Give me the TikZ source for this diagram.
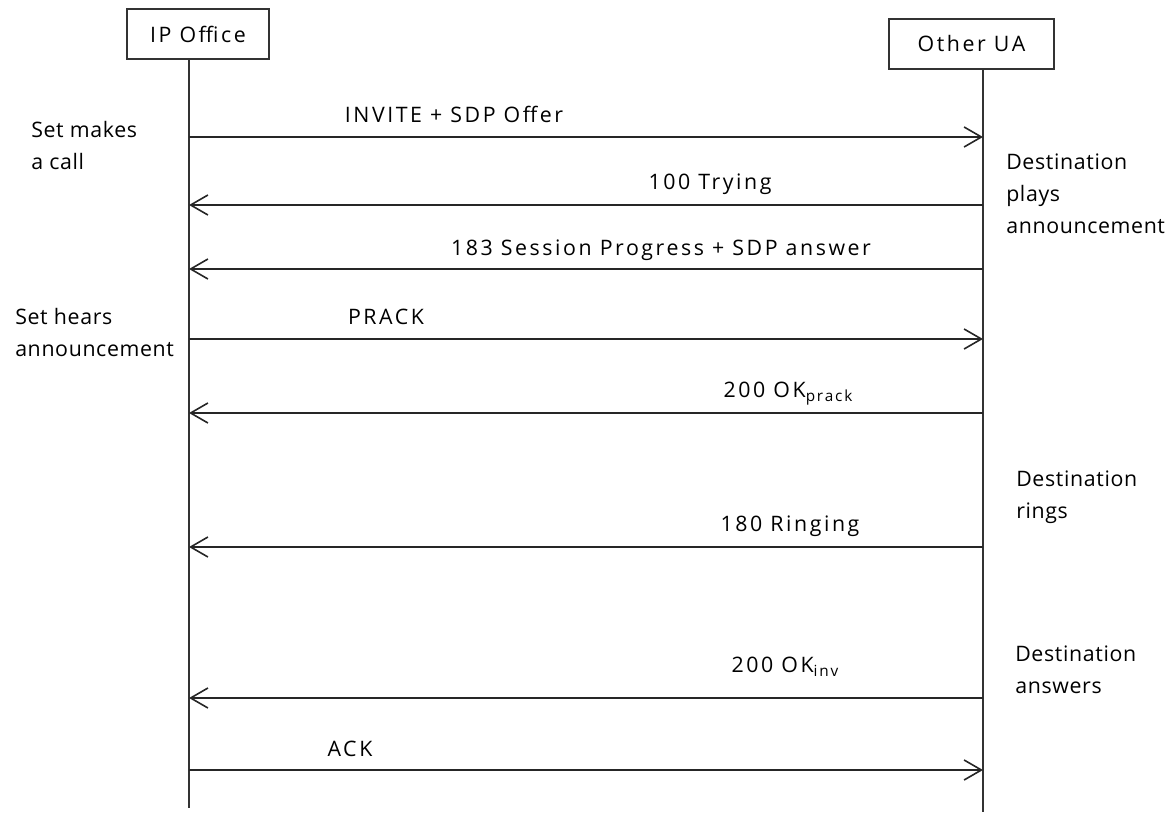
\documentclass[tikz,border=0pt]{standalone}
\usepackage{fontspec}
\setmainfont{Open Sans}
\newfontfamily\msgfont[LetterSpace=12]{Open Sans}
\newfontfamily\notefont[LetterSpace=3]{Open Sans}
\usetikzlibrary{arrows.meta}
\newcommand{\subtxt}[1]{\raisebox{-0.4ex}{\fontsize{11.5}{12}\selectfont #1}}
\begin{document}
\begin{tikzpicture}[x=0.75pt,y=-0.75pt,
  every node/.style={font=\msgfont\fontsize{16}{24}\selectfont, inner sep=0pt},
  actor/.style={draw=black!80, line width=1.2pt, minimum height=37.5pt, anchor=center, fill=white},
  lifeline/.style={draw=black!80, line width=1.3pt},
  msg/.style={draw=black!85, line width=1.2pt, -{Straight Barb[length=13pt,width=15pt,line width=1.2pt]}},
  lbl/.style={anchor=base},
  note/.style={align=left, anchor=north west, font=\notefont\fontsize{16}{24}\selectfont}]
\useasboundingbox (0,0) rectangle (1176,816);
% actors
\node[actor, minimum width=106.5pt] (ipo) at (198,34) {IP Office};
\node[actor, minimum width=123.75pt] (ua) at (971.5,44) {Other UA};
\coordinate (ipoEnd) at (189,808);
\coordinate (uaEnd) at (983,812);
\coordinate (ipoTop) at (189,59);
\coordinate (uaTop) at (983,69);
\draw[lifeline] (ipoTop) -- (ipoEnd);
\draw[lifeline] (uaTop) -- (uaEnd);
% message anchor points
\foreach \n/\y in {1/137,2/205,3/269,4/339,5/413,6/547,7/698,8/770}{
  \coordinate (L\n) at (189,\y);
  \coordinate (R\n) at (983,\y);
}
\draw[msg] (L1) -- (R1);
\draw[msg] (R2) -- (L2);
\draw[msg] (R3) -- (L3);
\draw[msg] (L4) -- (R4);
\draw[msg] (R5) -- (L5);
\draw[msg] (R6) -- (L6);
\draw[msg] (R7) -- (L7);
\draw[msg] (L8) -- (R8);
% message labels
\node[lbl] (m1) at (454,123) {INVITE + SDP Offer};
\node[lbl] (m2) at (710,190) {100 Trying};
\node[lbl] (m3) at (661,256) {183 Session Progress + SDP answer};
\node[lbl] (m4) at (386,325) {PRACK};
\node[lbl] (m5) at (788,397) {200 OK\subtxt{prack}};
\node[lbl] (m6) at (790,531) {180 Ringing};
\node[lbl] (m7) at (785,672) {200 OK\subtxt{inv}};
\node[lbl] (m8) at (350,756) {ACK};
% side notes
\node[note] (n1) at (31,121) {Set makes\\a call};
\node[note] (n2) at (15,308) {Set hears\\announcement};
\node[note] (n3) at (1006,154) {Destination\\plays\\announcement};
\node[note] (n4) at (1016,471) {Destination\\rings};
\node[note] (n5) at (1015,646) {Destination\\answers};
\end{tikzpicture}
\end{document}
